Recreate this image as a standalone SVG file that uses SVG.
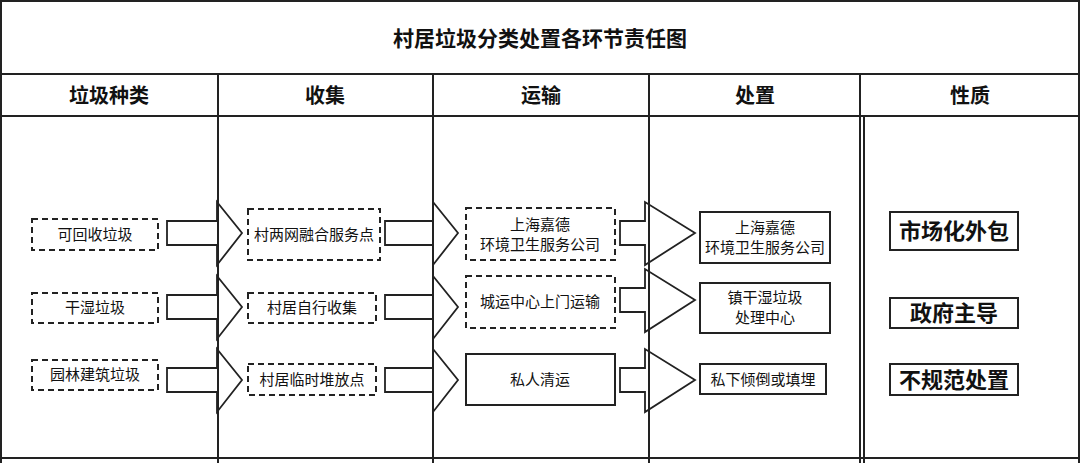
<svg xmlns="http://www.w3.org/2000/svg" width="1080" height="463" viewBox="0 0 1080 463">
<style>
text{font-family:"Liberation Sans","Noto Sans CJK SC",sans-serif;fill:#111;text-anchor:middle}
.t{font-size:21px;font-weight:bold}
.h{font-size:20px;font-weight:bold}
.n{font-size:15px}
.b{font-size:22px;font-weight:bold}
.d{fill:#fff;stroke:#222;stroke-width:2;stroke-dasharray:6,4}
.s{fill:#fff;stroke:#222;stroke-width:2}
.l{stroke:#222;stroke-width:2;fill:none}
.a{fill:#fff;stroke:#222;stroke-width:1.8;stroke-linejoin:miter}
</style>
<rect width="1080" height="463" fill="#fff"/>
<g id="connectors">
<path class="a" d="M167,221H217V202L242,233L217,265V245H167Z"/>
<path class="a" d="M167,295H217V276L242,307L217,339V319H167Z"/>
<path class="a" d="M167,368H217V349L242,380L217,412V392H167Z"/>
<path class="a" d="M385,221H433V202L458,233L433,265V245H385Z"/>
<path class="a" d="M385,295H433V276L458,307L433,339V319H385Z"/>
<path class="a" d="M385,368H433V349L458,380L433,412V392H385Z"/>
<path class="a" d="M620,221H645V202L695,233L645,265V245H620Z"/>
<path class="a" d="M620,288H645V269L695,300L645,332V312H620Z"/>
<path class="a" d="M620,368H645V349L695,380L645,412V392H620Z"/>
</g>
<g id="grid">
<rect class="l" x="1" y="1" width="1078" height="470"/>
<line class="l" x1="1" y1="74" x2="1079" y2="74"/>
<line class="l" x1="1" y1="116" x2="1079" y2="116"/>
<line class="l" x1="218" y1="74" x2="218" y2="463"/>
<line class="l" x1="433" y1="74" x2="433" y2="463"/>
<line class="l" x1="649" y1="74" x2="649" y2="463"/>
<line class="l" x1="860" y1="74" x2="860" y2="463"/>
<line class="l" x1="864" y1="116" x2="864" y2="463"/>
<line class="l" x1="1" y1="458" x2="1079" y2="458"/>
<text class="t" x="540" y="46">村居垃圾分类处置各环节责任图</text>
<text class="h" x="109" y="103">垃圾种类</text>
<text class="h" x="325" y="103">收集</text>
<text class="h" x="541" y="103">运输</text>
<text class="h" x="755" y="103">处置</text>
<text class="h" x="970" y="103">性质</text>
</g>
<g id="n1"><rect class="d" x="32" y="219" width="126" height="31"/><text class="n" x="95" y="240">可回收垃圾</text></g>
<g id="n2"><rect class="d" x="32" y="293" width="126" height="30"/><text class="n" x="95" y="313">干湿垃圾</text></g>
<g id="n3"><rect class="d" x="32" y="360" width="126" height="30"/><text class="n" x="95" y="380">园林建筑垃圾</text></g>
<g id="n4"><rect class="d" x="248" y="209" width="132" height="51"/><text class="n" x="314" y="240">村两网融合服务点</text></g>
<g id="n5"><rect class="d" x="248" y="293" width="128" height="30"/><text class="n" x="312" y="313">村居自行收集</text></g>
<g id="n6"><rect class="d" x="248" y="364" width="128" height="31"/><text class="n" x="312" y="385">村居临时堆放点</text></g>
<g id="n7"><rect class="d" x="466" y="208" width="149" height="52"/><text class="n" x="540" y="230">上海嘉德</text><text class="n" x="540" y="250">环境卫生服务公司</text></g>
<g id="n8"><rect class="d" x="466" y="276" width="149" height="52"/><text class="n" x="540" y="307">城运中心上门运输</text></g>
<g id="n9"><rect class="s" x="466" y="354" width="149" height="51"/><text class="n" x="540" y="385">私人清运</text></g>
<g id="n10"><rect class="s" x="700" y="212" width="130" height="51"/><text class="n" x="765" y="233">上海嘉德</text><text class="n" x="765" y="253">环境卫生服务公司</text></g>
<g id="n11"><rect class="s" x="700" y="283" width="130" height="50"/><text class="n" x="765" y="303">镇干湿垃圾</text><text class="n" x="765" y="323">处理中心</text></g>
<g id="n12"><rect class="s" x="700" y="364" width="126" height="30"/><text class="n" x="763" y="385">私下倾倒或填埋</text></g>
<g id="n13"><rect class="s" x="890" y="212" width="128" height="38"/><text class="b" x="954" y="239">市场化外包</text></g>
<g id="n14"><rect class="s" x="890" y="298" width="128" height="30"/><text class="b" x="954" y="321">政府主导</text></g>
<g id="n15"><rect class="s" x="890" y="364" width="128" height="31"/><text class="b" x="954" y="388">不规范处置</text></g>
</svg>
